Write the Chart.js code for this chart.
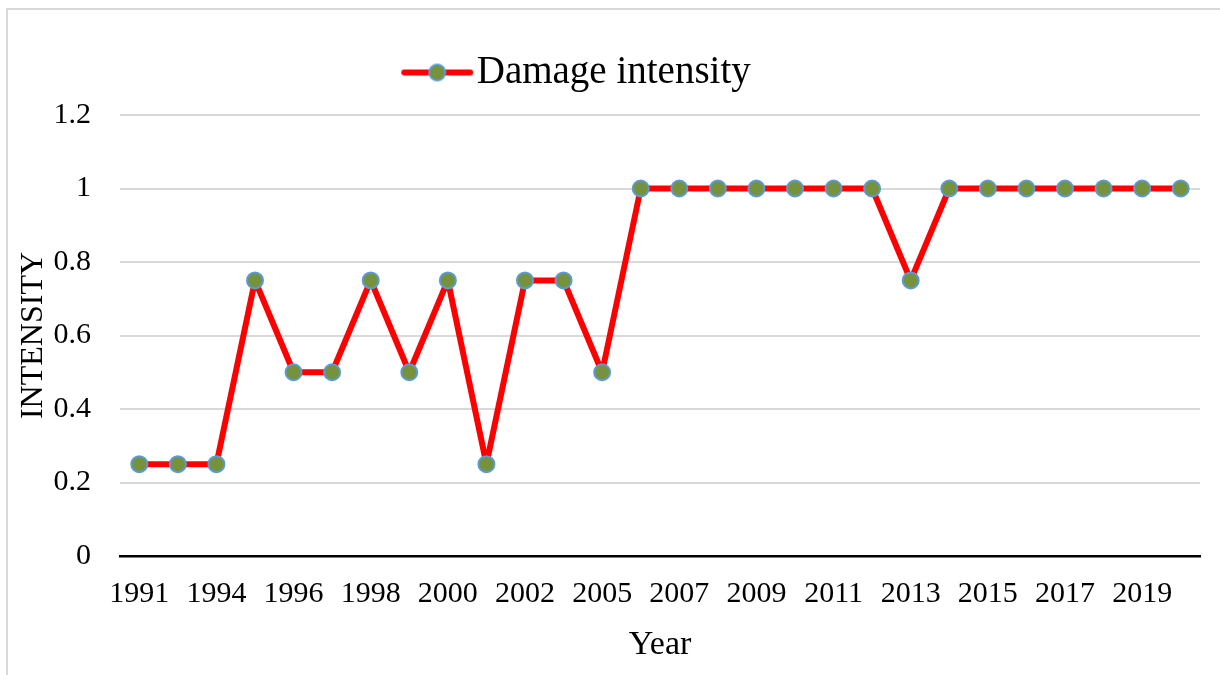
<!DOCTYPE html>
<html>
<head>
<meta charset="utf-8">
<script src="https://cdn.jsdelivr.net/npm/chart.js@4"></script>
<style>
  body { margin: 0; background: #fff; }
  #wrap { position: relative; width: 1220px; height: 675px; overflow: hidden; }
  #frame { position: absolute; left: 6px; top: 8px; width: 1400px; height: 900px; border: 2px solid #d9d9d9; }
  #chart { position: absolute; left: 0; top: 0; }
</style>
</head>
<body>
<div id="wrap">
  <div id="frame"></div>
  <canvas id="chart" width="1220" height="675"></canvas>
</div>
<script>
const years = ['1991', '1993', '1994', '1995', '1996', '1997', '1998', '1999', '2000', '2001',
  '2002', '2004', '2005', '2006', '2007', '2008', '2009', '2010', '2011', '2012',
  '2013', '2014', '2015', '2016', '2017', '2018', '2019', '2020'];
const damageIntensity = [0.25, 0.25, 0.25, 0.75, 0.5, 0.5, 0.75, 0.5, 0.75, 0.25,
  0.75, 0.75, 0.5, 1, 1, 1, 1, 1, 1, 1,
  0.75, 1, 1, 1, 1, 1, 1, 1];
const yTicks = { min: 0, max: 1.2, step: 0.2 };

const serif = '"Liberation Serif", "Times New Roman", serif';
const lineRed = '#ff0000';
const markerFill = '#76923c';
const markerEdge = '#5b9bd5';

// legend sample: red line with a marker in the middle
function legendSample() {
  const c = document.createElement('canvas');
  c.width = 74; c.height = 22;
  const g = c.getContext('2d');
  g.strokeStyle = lineRed;
  g.lineWidth = 6;
  g.lineCap = 'round';
  g.beginPath(); g.moveTo(4, 11); g.lineTo(70, 11); g.stroke();
  g.beginPath(); g.arc(37, 11, 8, 0, Math.PI * 2);
  g.fillStyle = markerFill; g.fill();
  g.lineWidth = 2; g.strokeStyle = markerEdge; g.stroke();
  return c;
}
const sample = legendSample();

// nudge the legend left and give it more room below
const legendTweak = {
  id: 'legendTweak',
  beforeInit(chart) {
    const fit = chart.legend.fit;
    chart.legend.fit = function () {
      fit.call(this);
      this.height += 13;
    };
  },
  afterLayout(chart) {
    chart.legend.left -= 21;
    chart.legend.right -= 21;
  }
};

const ctx = document.getElementById('chart').getContext('2d');
new Chart(ctx, {
  type: 'line',
  data: {
    labels: years,
    datasets: [{
      label: 'Damage intensity',
      data: damageIntensity,
      borderColor: lineRed,
      borderWidth: 6,
      borderJoinStyle: 'round',
      tension: 0,
      pointRadius: 8,
      pointBackgroundColor: markerFill,
      pointBorderColor: markerEdge,
      pointBorderWidth: 2,
      fill: false
    }]
  },
  options: {
    responsive: false,
    animation: false,
    layout: { padding: { left: 10, right: 20, top: 27, bottom: 0 } },
    plugins: {
      legend: {
        display: true,
        position: 'top',
        labels: {
          usePointStyle: true,
          pointStyleWidth: 40,
          padding: 26,
          color: '#000',
          font: { family: serif, size: 39 },
          generateLabels: chart => [{
            text: 'Damage intensity',
            pointStyle: sample,
            fillStyle: lineRed,
            strokeStyle: lineRed,
            lineWidth: 0,
            datasetIndex: 0
          }]
        }
      },
      tooltip: { enabled: false }
    },
    scales: {
      x: {
        offset: true,
        grid: { display: false, drawTicks: false },
        border: { display: true, color: '#000', width: 2.5 },
        ticks: {
          autoSkip: false,
          maxRotation: 0,
          padding: 20,
          color: '#000',
          font: { family: serif, size: 30 },
          callback: function (val, i) { return i % 2 === 0 ? this.getLabelForValue(val) : ''; }
        },
        title: {
          display: true,
          text: 'Year',
          color: '#000',
          font: { family: serif, size: 34 },
          padding: { top: 0, bottom: 10 }
        },
        afterFit: s => { s.height = 119; }
      },
      y: {
        min: yTicks.min,
        max: yTicks.max,
        grid: { color: '#d9d9d9', lineWidth: 2, drawTicks: false },
        border: { display: false },
        ticks: {
          stepSize: yTicks.step,
          padding: 29,
          color: '#000',
          font: { family: serif, size: 30 },
          callback: v => String(Math.round(v * 10) / 10)
        },
        title: {
          display: true,
          text: 'INTENSITY',
          color: '#000',
          font: { family: serif, size: 32 },
          padding: { top: 4, bottom: 0 }
        },
        afterFit: s => { s.width = 110; }
      }
    }
  },
  plugins: [legendTweak]
});
</script>
</body>
</html>
